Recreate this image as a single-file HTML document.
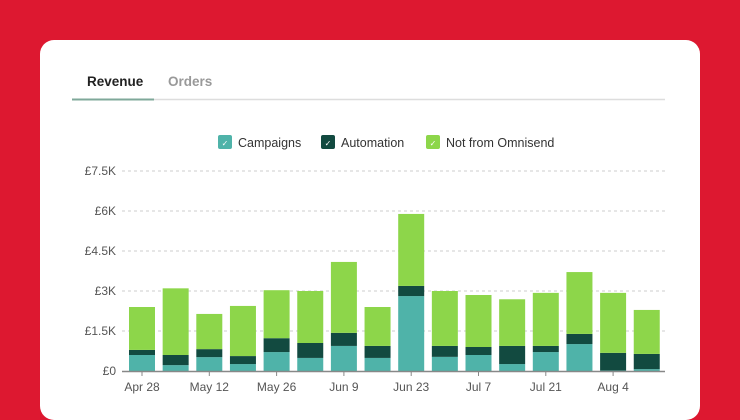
<!DOCTYPE html>
<html><head><meta charset="utf-8"><style>
body{margin:0;width:740px;height:400px;background:#dd1830;overflow:hidden;font-family:"Liberation Sans",sans-serif;}
#card{position:absolute;left:40px;top:40px;width:660px;height:380px;background:#fff;border-radius:14px;}
.tab{position:absolute;top:74px;font-size:13.5px;font-weight:bold;}
svg{position:absolute;left:0;top:0;}
</style></head><body>
<div id="card"></div>
<div class="tab" style="left:87px;color:#222">Revenue</div>
<div class="tab" style="left:168px;color:#999">Orders</div>
<svg id="chart" width="740" height="400">
<line x1="72" y1="99.5" x2="665" y2="99.5" stroke="#ddd" stroke-width="1.5"/>
<line x1="72" y1="99.5" x2="154" y2="99.5" stroke="#7fa89a" stroke-width="2"/>
</svg>
<script>
const categories=["Apr 28","May 5","May 12","May 19","May 26","Jun 2","Jun 9","Jun 16","Jun 23","Jun 30","Jul 7","Jul 14","Jul 21","Jul 28","Aug 4","Aug 11"];
const campaigns=[0.6,0.22,0.52,0.26,0.71,0.49,0.94,0.49,2.81,0.53,0.6,0.26,0.71,1.01,0.02,0.07];
const automation=[0.19,0.38,0.3,0.3,0.52,0.56,0.49,0.45,0.38,0.41,0.3,0.68,0.23,0.38,0.66,0.57];
const notOmnisend=[1.61,2.5,1.32,1.88,1.8,1.95,2.66,1.46,2.7,2.06,1.95,1.75,1.99,2.32,2.25,1.65];
const yTicks=[0,1.5,3,4.5,6,7.5];
const yTickLabels=["£0","£1.5K","£3K","£4.5K","£6K","£7.5K"];
const xTickLabels=["Apr 28","May 12","May 26","Jun 9","Jun 23","Jul 7","Jul 21","Aug 4"];
const legendLabels=["Campaigns","Automation","Not from Omnisend"];
const colors=["#4fb3a9","#124a40","#8dd64a"];
const svg=document.getElementById('chart');
const NS="http://www.w3.org/2000/svg";
const x0=122,x1=665,y0=371,pxPerK=160/6;
const yS=v=>y0-v*pxPerK;
const step=33.65,bw=26;
const xC=i=>142+i*step;
function mk(t,a){const e=document.createElementNS(NS,t);for(const k in a)e.setAttribute(k,a[k]);svg.appendChild(e);return e;}
yTicks.forEach((v,i)=>{
  if(v>0){const g=mk('line',{x1:x0,x2:x1,y1:yS(v),y2:yS(v),stroke:'#ccc','stroke-dasharray':'3,3'});
  
  }
  const t=mk('text',{x:116,y:yS(v)+4,'text-anchor':'end','font-size':12,fill:'#555'});
  t.textContent=yTickLabels[i];
  
  
});
categories.forEach((c,i)=>{
  let base=0;
  [campaigns[i],automation[i],notOmnisend[i]].forEach((v,s)=>{
    const r=mk('rect',{x:xC(i)-bw/2,y:yS(base+v),width:bw,height:v*pxPerK,fill:colors[s]});
    
    
    base+=v;
  });
});
const ax=mk('line',{x1:x0,x2:x1,y1:y0+0.5,y2:y0+0.5,stroke:'#888','stroke-width':1.5});


xTickLabels.forEach(l=>{
  const i=categories.indexOf(l);
  mk('line',{x1:xC(i),x2:xC(i),y1:y0,y2:y0+5,stroke:'#888'});
  const t=mk('text',{x:xC(i),y:y0+20,'text-anchor':'middle','font-size':12,fill:'#555'});
  t.textContent=l;
  
  
});
const lx=[218,321,426];
legendLabels.forEach((l,i)=>{
  const r=mk('rect',{x:lx[i],y:135,width:14,height:14,rx:2,fill:colors[i]});
  
  
  const ck=mk('text',{x:lx[i]+7,y:146,'text-anchor':'middle','font-size':8,fill:'#fff'});
  ck.textContent='✓';
  const t=mk('text',{x:lx[i]+20,y:147,'font-size':12.5,fill:'#333'});
  t.textContent=l;
  
  
});
</script>
</body></html>
